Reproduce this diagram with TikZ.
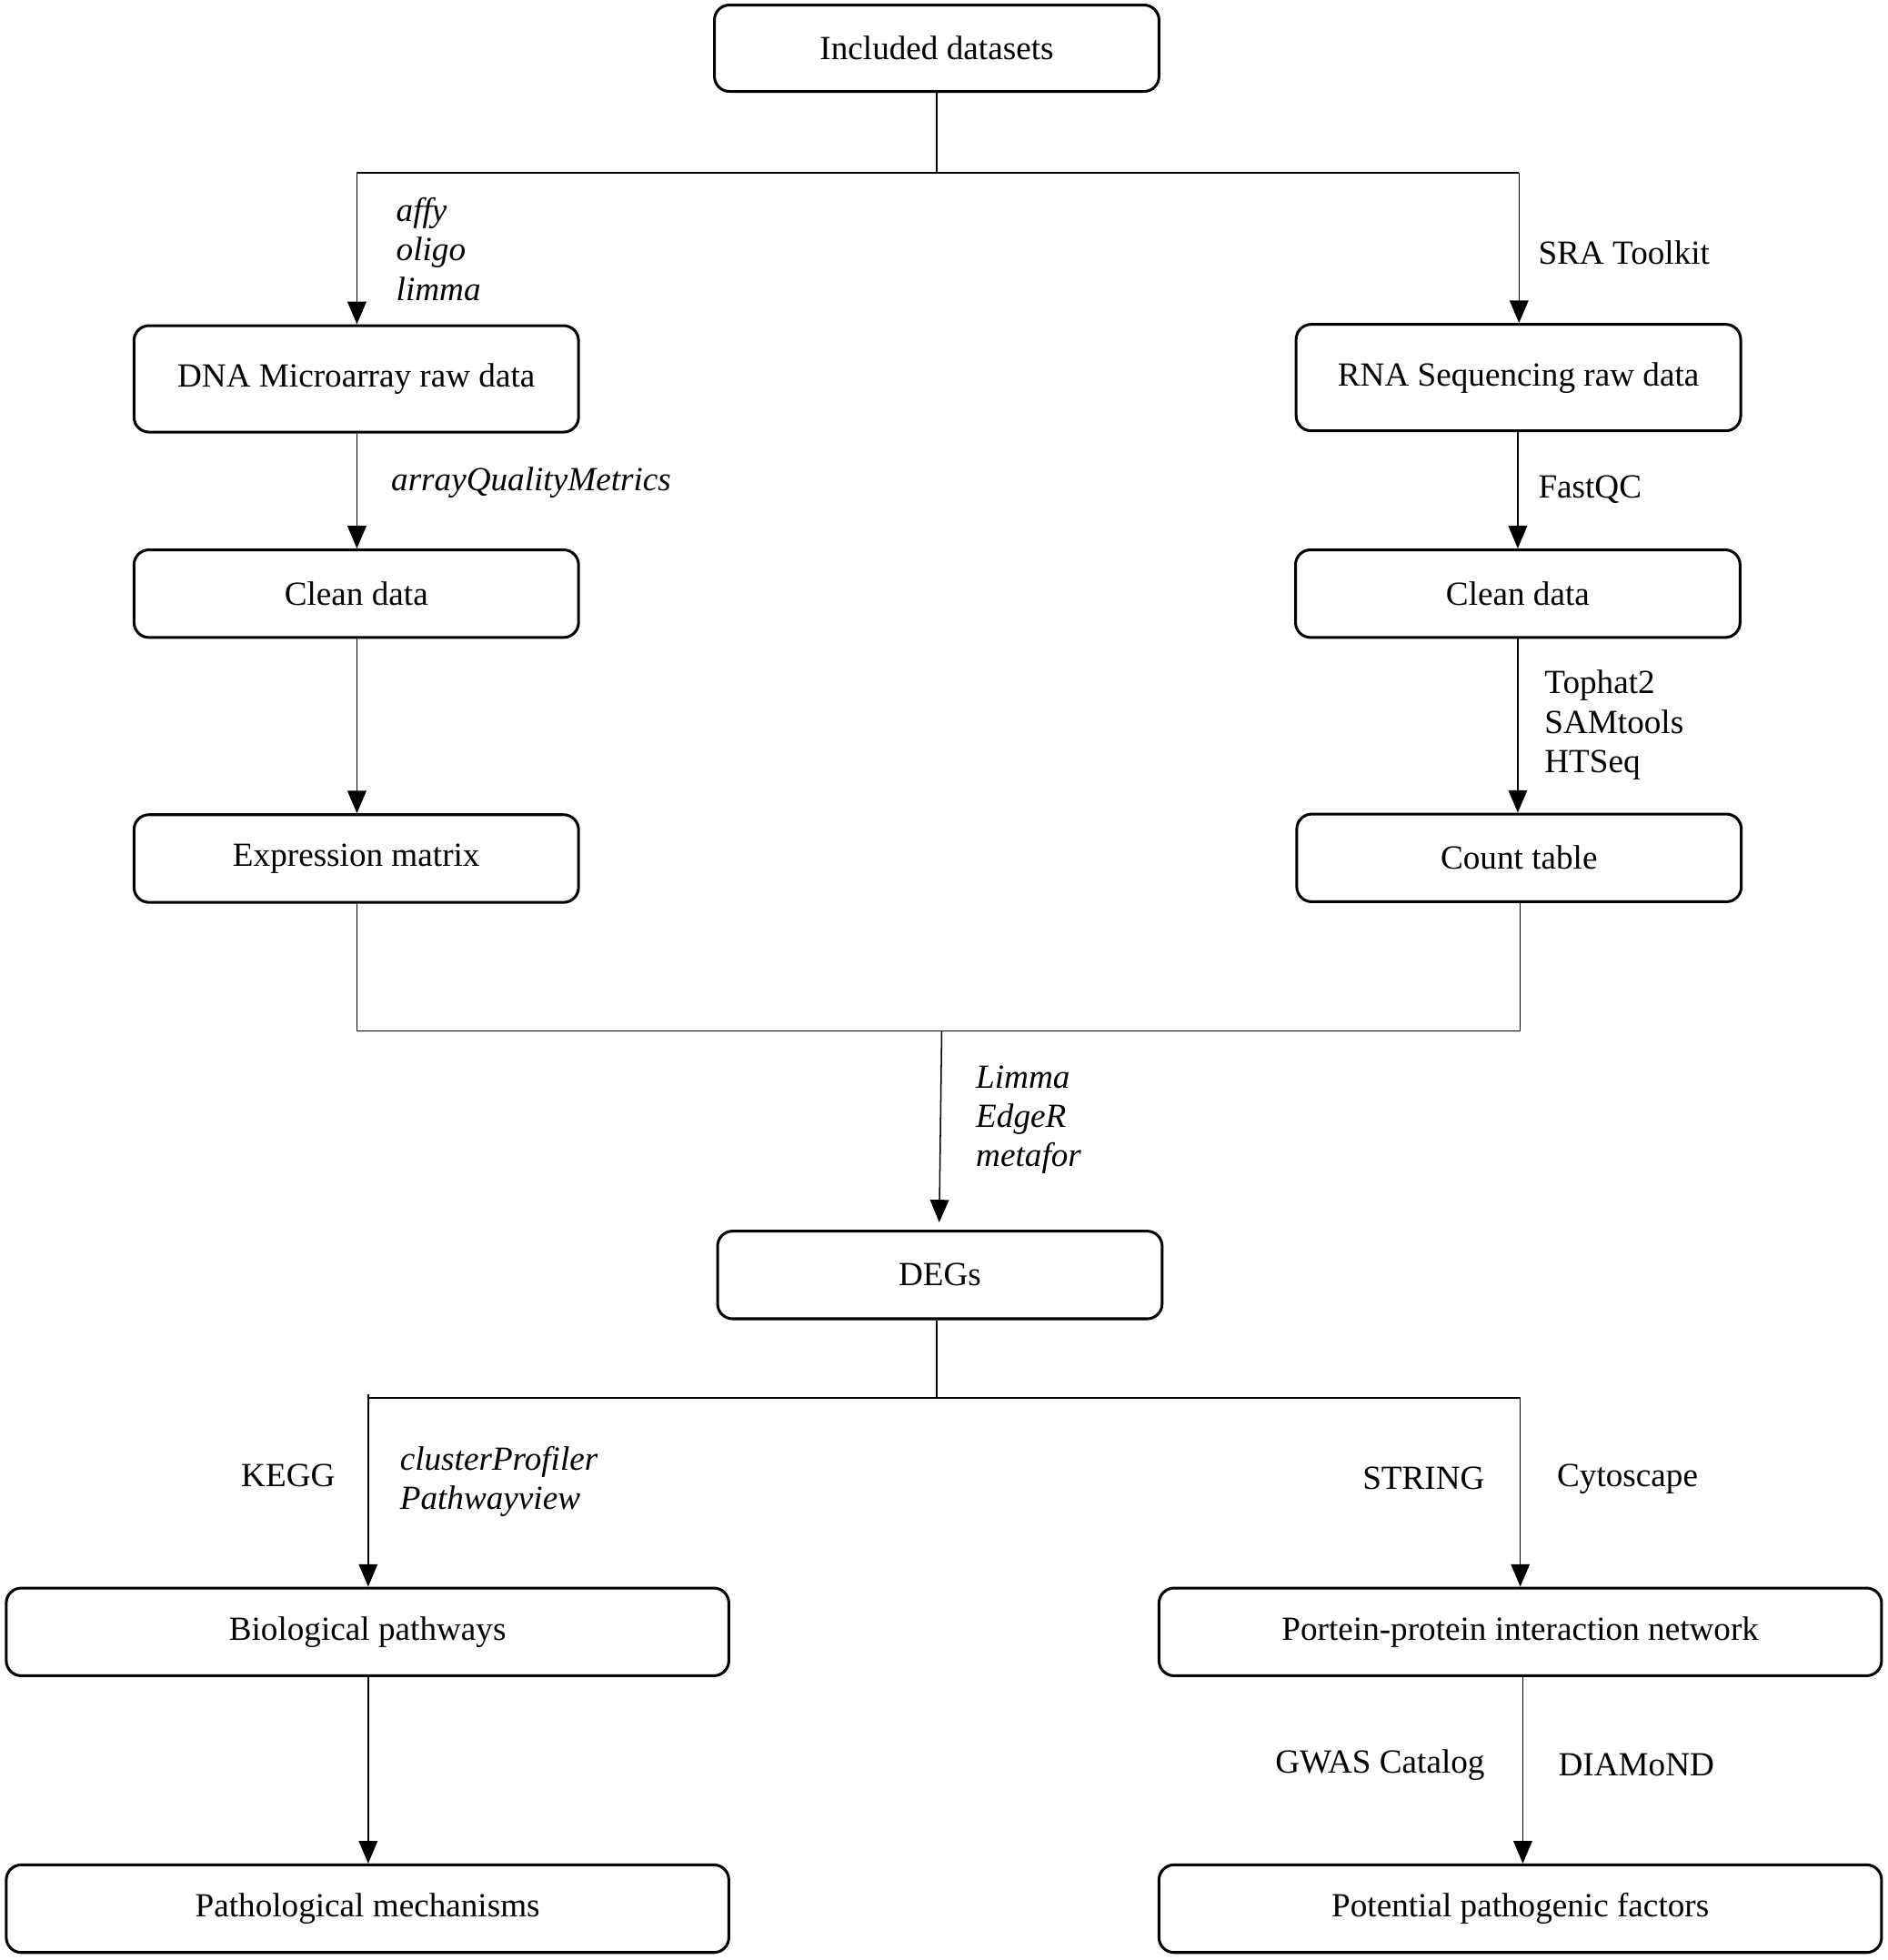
\documentclass[tikz,border=0pt]{standalone}
\usepackage{fontspec}
\setmainfont{Liberation Serif}
\usetikzlibrary{arrows.meta}
\begin{document}
\begin{tikzpicture}[x=0.5pt,y=-0.5pt,
  box/.style={draw,line width=1.1pt,rounded corners=6pt,minimum width=177.5pt,minimum height=35pt,inner sep=0pt,font=\fontsize{13.5}{15.75}\selectfont},
  wide/.style={box,minimum width=288.5pt},
  conn/.style={line width=0.55pt},
  arr/.style={conn,-{Triangle[length=9pt,width=7.5pt]}},
  lbl/.style={align=left,inner sep=0pt,font=\fontsize{13.5}{15.75}\selectfont},
  ilbl/.style={lbl,font=\fontsize{13.5}{15.75}\selectfont\itshape}]
\useasboundingbox (0,0) rectangle (1507,1565);
% boxes
\node[box,minimum height=34.5pt] (inc) at (748,38.5) {Included datasets};
\node[box,minimum height=42.5pt] (dna) at (284.5,302.5) {DNA Microarray raw data};
\node[box,minimum height=42.5pt] (rna) at (1212.5,301.5) {RNA Sequencing raw data};
\node[box] (cl) at (284.5,474) {Clean data};
\node[box] (cr) at (1212,474) {Clean data};
\node[box] (ex) at (284.5,685.5) {Expression matrix};
\node[box] (ct) at (1213,685) {Count table};
\node[box] (deg) at (750.5,1018) {DEGs};
\node[wide] (bio) at (293.5,1303) {Biological pathways};
\node[wide] (ppi) at (1214,1303) {Portein-protein interaction network};
\node[wide] (path) at (293.5,1524) {Pathological mechanisms};
\node[wide] (pot) at (1214,1524) {Potential pathogenic factors};
% junction coordinates
\coordinate (j1) at (748,138);
\coordinate (j1l) at (285,138);
\coordinate (j1r) at (1213,138);
\coordinate (j2l) at (285,823);
\coordinate (j2r) at (1214,823);
\coordinate (j2) at (752,823);
\coordinate (j3) at (748,1116);
\coordinate (j3l) at (294,1116);
\coordinate (j3r) at (1214,1116);
% connectors
\draw[conn] (inc.south -| j1) -- (j1);
\draw[conn] (j1l) -- (j1r);
\draw[arr] (j1l) -- (j1l |- dna.north);
\draw[arr] (j1r) -- (j1r |- rna.north);
\draw[arr] (dna.south -| j1l) -- (j1l |- cl.north);
\draw[arr] (cl.south -| j1l) -- (j1l |- ex.north);
\draw[arr] (rna.south -| 1212,0) -- (cr.north -| 1212,0);
\draw[arr] (cr.south -| 1212,0) -- (ct.north -| 1212,0);
\draw[conn] (ex.south -| j2l) -- (j2l) -- (j2r) -- (ct.south -| j2r);
\draw[arr] (j2) -- (750,976);
\draw[conn] (deg.south -| j3) -- (j3);
\draw[conn] (j3l) ++(0,-3) -- (j3l) -- (j3r);
\draw[arr] (j3l) -- (j3l |- bio.north);
\draw[arr] (j3r) -- (j3r |- ppi.north);
\draw[arr] (bio.south -| j3l) -- (j3l |- path.north);
\draw[arr] (ppi.south -| 1216,0) -- (pot.north -| 1216,0);
% labels
\node[ilbl,anchor=west] (l1) at (316,199) {affy\\oligo\\limma};
\node[lbl,anchor=west] (l2) at (1228,202) {SRA Toolkit};
\node[ilbl,anchor=west] (l3) at (312,385) {arrayQualityMetrics};
\node[lbl,anchor=west] (l4) at (1228,391) {FastQC};
\node[lbl,anchor=west] (l5) at (1233,579) {Tophat2\\SAMtools\\HTSeq};
\node[ilbl,anchor=west] (l6) at (779,894) {Limma\\EdgeR\\metafor};
\node[lbl,anchor=east] (l7) at (268,1178) {KEGG};
\node[ilbl,anchor=west] (l8) at (319,1183) {clusterProfiler\\Pathwayview};
\node[lbl,anchor=east] (l9) at (1186,1180) {STRING};
\node[lbl,anchor=west] (l10) at (1243,1181) {Cytoscape};
\node[lbl,anchor=east] (l11) at (1186,1409) {GWAS Catalog};
\node[lbl,anchor=west] (l12) at (1244,1409) {DIAMoND};
\end{tikzpicture}
\end{document}
